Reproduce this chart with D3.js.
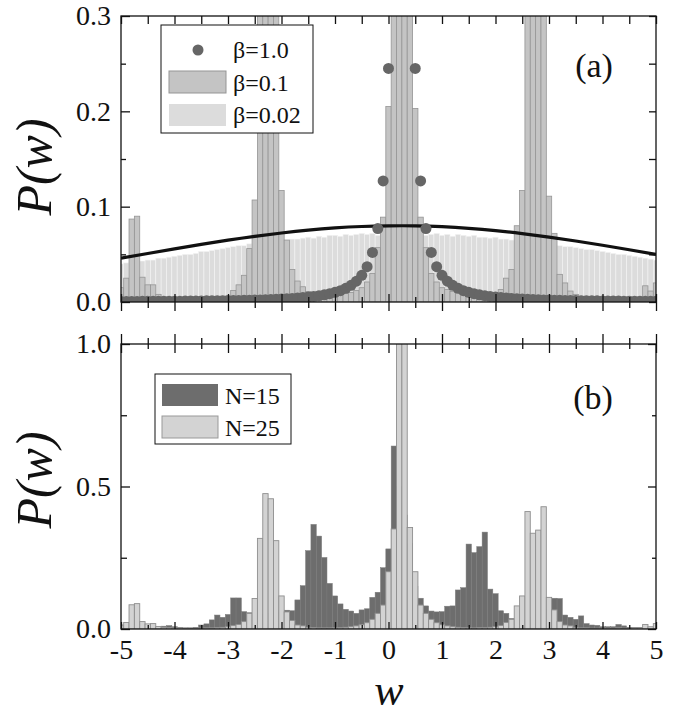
<!DOCTYPE html>
<meta charset="utf-8">
<div id="chart"></div>
<style>
  body { margin: 0; background: #fff; }
  text { font-family: "Liberation Serif", "Times New Roman", serif; fill: #111; }
</style>
<script src="https://d3js.org/d3.v7.min.js"></script>
<script>

// bin centres (width 0.1) shared by every histogram
var binW = [-5.0,-4.9,-4.8,-4.7,-4.6,-4.5,-4.4,-4.3,-4.2,-4.1,
  -4.0,-3.9,-3.8,-3.7,-3.6,-3.5,-3.4,-3.3,-3.2,-3.1,
  -3.0,-2.9,-2.8,-2.7,-2.6,-2.5,-2.4,-2.3,-2.2,-2.1,
  -2.0,-1.9,-1.8,-1.7,-1.6,-1.5,-1.4,-1.3,-1.2,-1.1,
  -1.0,-0.9,-0.8,-0.7,-0.6,-0.5,-0.4,-0.3,-0.2,-0.1,
  0.0,0.1,0.2,0.3,0.4,0.5,0.6,0.7,0.8,0.9,
  1.0,1.1,1.2,1.3,1.4,1.5,1.6,1.7,1.8,1.9,
  2.0,2.1,2.2,2.3,2.4,2.5,2.6,2.7,2.8,2.9,
  3.0,3.1,3.2,3.3,3.4,3.5,3.6,3.7,3.8,3.9,
  4.0,4.1,4.2,4.3,4.4,4.5,4.6,4.7,4.8,4.9,5.0];

// panel (a)
var beta1 = [0.0006,0.0006,0.0006,0.0006,0.0007,0.0007,0.0007,0.0008,0.0008,0.0008,
  0.0009,0.0009,0.0010,0.0010,0.0011,0.0011,0.0012,0.0013,0.0013,0.0014,
  0.0015,0.0016,0.0017,0.0018,0.0019,0.0021,0.0022,0.0024,0.0026,0.0029,
  0.0031,0.0034,0.0038,0.0042,0.0046,0.0052,0.0058,0.0066,0.0075,0.0087,
  0.0101,0.0119,0.0143,0.0175,0.0218,0.028,0.037,0.052,0.077,0.127,
  0.245,0.65,3.5,3.5,0.65,0.245,0.127,0.077,0.052,0.037,
  0.028,0.0218,0.0175,0.0143,0.0119,0.0101,0.0087,0.0075,0.0066,0.0058,
  0.0052,0.0046,0.0042,0.0038,0.0034,0.0031,0.0029,0.0026,0.0024,0.0022,
  0.0021,0.0019,0.0018,0.0017,0.0016,0.0015,0.0014,0.0013,0.0013,0.0012,
  0.0011,0.0011,0.0010,0.0010,0.0009,0.0009,0.0008,0.0008,0.0008,0.0007,0.0007];

var beta01 = [0.015,0.025,0.087,0.090,0.026,0.018,0.018,0.008,0.005,0.004,
  0.003,0.003,0.003,0.003,0.003,0.004,0.004,0.005,0.005,0.006,
  0.006,0.012,0.018,0.028,0.056,0.107,0.45,0.8,0.8,0.45,
  0.117,0.065,0.034,0.022,0.016,0.011,0.009,0.008,0.007,0.007,
  0.007,0.008,0.009,0.010,0.012,0.015,0.021,0.030,0.057,0.089,
  0.205,0.9,1.5,1.5,0.9,0.203,0.089,0.057,0.030,0.021,
  0.015,0.013,0.011,0.010,0.009,0.008,0.008,0.007,0.007,0.008,
  0.010,0.013,0.025,0.034,0.080,0.117,0.45,0.8,0.8,0.45,
  0.111,0.072,0.029,0.020,0.0115,0.008,0.006,0.005,0.005,0.004,
  0.004,0.004,0.005,0.004,0.004,0.005,0.004,0.004,0.017,0.0115,0.020];

var beta002 = [0.040,0.041,0.041,0.042,0.043,0.044,0.044,0.046,0.046,0.047,
  0.048,0.049,0.050,0.050,0.051,0.053,0.053,0.054,0.055,0.056,
  0.057,0.058,0.059,0.059,0.061,0.061,0.062,0.063,0.063,0.064,
  0.065,0.065,0.066,0.066,0.067,0.068,0.067,0.069,0.068,0.070,
  0.070,0.069,0.071,0.070,0.071,0.072,0.071,0.072,0.070,0.072,
  0.071,0.072,0.071,0.073,0.072,0.071,0.072,0.070,0.071,0.072,
  0.070,0.071,0.069,0.071,0.070,0.069,0.070,0.068,0.068,0.067,
  0.068,0.066,0.066,0.065,0.065,0.064,0.063,0.063,0.062,0.061,
  0.061,0.060,0.059,0.058,0.058,0.057,0.056,0.055,0.055,0.054,
  0.053,0.052,0.051,0.050,0.050,0.049,0.048,0.047,0.046,0.045,0.044];

var fitW = [-5,-4.5,-4,-3.5,-3,-2.5,-2,-1.5,-1,-0.5,0,0.5,1,1.5,2,2.5,3,3.5,4,4.5,5];
var fitP = [0.046,0.0509,0.0557,0.0604,0.0649,0.0689,0.0724,0.0754,0.0777,0.0792,0.0799,
  0.0799,0.079,0.0773,0.0749,0.0718,0.0681,0.064,0.0595,0.0548,0.0499];

// panel (b)
var n15 = [0.004,0.004,0.005,0.005,0.005,0.004,0.005,0.006,0.010,0.012,
  0.008,0.006,0.004,0.004,0.006,0.014,0.018,0.032,0.049,0.041,
  0.051,0.109,0.109,0.061,0.057,0.050,0.050,0.050,0.055,0.060,
  0.065,0.066,0.064,0.102,0.152,0.275,0.367,0.326,0.251,0.160,
  0.116,0.088,0.069,0.063,0.055,0.067,0.071,0.111,0.129,0.215,
  0.281,0.642,0.500,0.400,0.300,0.150,0.108,0.081,0.063,0.060,
  0.061,0.080,0.081,0.137,0.145,0.298,0.268,0.289,0.340,0.140,
  0.124,0.064,0.055,0.037,0.030,0.030,0.035,0.040,0.050,0.070,
  0.100,0.108,0.107,0.049,0.041,0.034,0.046,0.019,0.014,0.013,
  0.008,0.008,0.008,0.016,0.011,0.006,0.006,0.006,0.005,0.004,0.004];

var n25 = [0.014,0.023,0.085,0.089,0.026,0.018,0.019,0.009,0.006,0.005,
  0.004,0.004,0.003,0.003,0.003,0.003,0.004,0.004,0.005,0.006,
  0.008,0.012,0.016,0.026,0.055,0.107,0.318,0.475,0.457,0.310,
  0.116,0.060,0.030,0.014,0.011,0.006,0.005,0.004,0.004,0.004,
  0.005,0.005,0.006,0.008,0.011,0.015,0.022,0.034,0.055,0.084,
  0.201,0.351,1.150,1.150,0.356,0.201,0.084,0.055,0.034,0.022,
  0.015,0.011,0.008,0.006,0.005,0.005,0.004,0.005,0.005,0.006,
  0.009,0.012,0.023,0.034,0.081,0.116,0.412,0.336,0.347,0.429,
  0.111,0.067,0.026,0.014,0.011,0.006,0.004,0.004,0.003,0.003,
  0.003,0.003,0.003,0.004,0.003,0.003,0.004,0.004,0.016,0.008,0.019];

var xMajor = [-5,-4,-3,-2,-1,0,1,2,3,4,5];
var xMinor = [-4.5,-3.5,-2.5,-1.5,-0.5,0.5,1.5,2.5,3.5,4.5];
var yMajorA = [0, 0.1, 0.2, 0.3], yMinorA = [0.05, 0.15, 0.25];
var yMajorB = [0, 0.5, 1.0], yMinorB = [0.25, 0.75];

var svg = d3.select("#chart").append("svg")
    .attr("width", 684)
    .attr("height", 714)
    .style("background", "#fff");

var x = d3.scaleLinear().domain([-5, 5]).range([121, 656]);
var yA = d3.scaleLinear().domain([0, 0.3]).range([302, 16]);
var yB = d3.scaleLinear().domain([0, 1]).range([629, 344]);
var half = 0.05;

var defs = svg.append("defs");
defs.append("clipPath").attr("id", "clipA").append("rect")
    .attr("x", 121).attr("y", 16).attr("width", 535).attr("height", 286);
defs.append("clipPath").attr("id", "clipB").append("rect")
    .attr("x", 121).attr("y", 344).attr("width", 535).attr("height", 285);

function bars(g, vals, y, fill, stroke, sw) {
  g.append("g").selectAll("rect").data(vals).join("rect")
    .attr("x", function(d, i) { return x(binW[i] - half); })
    .attr("width", x(half) - x(-half))
    .attr("y", function(d) { return y(d); })
    .attr("height", function(d) { return y(0) - y(d); })
    .attr("fill", fill)
    .attr("stroke", stroke)
    .attr("stroke-width", sw);
}

// tick marks only, size>0 points along the axis' own direction
function ticks(tx, ty, axis, vals, size) {
  var g = svg.append("g").attr("transform", "translate(" + tx + "," + ty + ")");
  g.call(axis.tickValues(vals).tickSize(size).tickFormat(""));
  g.select(".domain").remove();
  g.selectAll("line").attr("stroke", "#111").attr("stroke-width", 1.3);
}

function labels(tx, ty, axis, vals, fmt, pad) {
  var g = svg.append("g").attr("transform", "translate(" + tx + "," + ty + ")");
  g.call(axis.tickValues(vals).tickSize(0).tickPadding(pad).tickFormat(fmt));
  g.select(".domain").remove();
  g.selectAll("text")
    .style("font-family", "'Liberation Serif', serif")
    .attr("font-size", 28)
    .attr("fill", "#111");
}

// ---------- panel (a)
var pa = svg.append("g").attr("clip-path", "url(#clipA)");
bars(pa, beta002, yA, "#dcdcdc", "#f4f4f4", 0.6);
bars(pa, beta01, yA, "#c4c4c4", "#959595", 0.8);

pa.append("path")
    .datum(fitW)
    .attr("fill", "none")
    .attr("stroke", "#111")
    .attr("stroke-width", 3.2)
    .attr("d", d3.line()
        .x(function(d) { return x(d); })
        .y(function(d, i) { return yA(fitP[i]); })
        .curve(d3.curveNatural));

pa.append("g").selectAll("circle").data(beta1).join("circle")
    .attr("cx", function(d, i) { return x(binW[i]); })
    .attr("cy", function(d) { return yA(d); })
    .attr("r", 5.5)
    .attr("fill", "#666");

svg.append("rect").attr("x", 121).attr("y", 16).attr("width", 535).attr("height", 286)
    .attr("fill", "none").attr("stroke", "#111").attr("stroke-width", 1.3);

ticks(0, 302, d3.axisBottom(x), xMajor, 9);
ticks(0, 302, d3.axisBottom(x), xMajor, -8);
ticks(0, 302, d3.axisBottom(x), xMinor, 6);
ticks(0, 302, d3.axisBottom(x), xMinor, -5);
ticks(0, 16, d3.axisTop(x), xMajor.concat(xMinor), -8);
ticks(121, 0, d3.axisLeft(yA), yMajorA, -9);
ticks(121, 0, d3.axisLeft(yA), yMinorA, -5);
ticks(656, 0, d3.axisRight(yA), yMajorA.concat(yMinorA), -7);
labels(121, 0, d3.axisLeft(yA), yMajorA, d3.format(".1f"), 10);

// legend (a)
var la = svg.append("g");
la.append("rect").attr("x", 161).attr("y", 25).attr("width", 152).attr("height", 108)
    .attr("fill", "#fff").attr("stroke", "#111").attr("stroke-width", 1);
la.append("circle").attr("cx", 198).attr("cy", 50).attr("r", 5.5).attr("fill", "#666");
la.append("rect").attr("x", 169).attr("y", 71).attr("width", 57).attr("height", 22)
    .attr("fill", "#c4c4c4").attr("stroke", "#959595");
la.append("rect").attr("x", 169).attr("y", 104).attr("width", 57).attr("height", 22)
    .attr("fill", "#dcdcdc");
la.selectAll("text").data(["β=1.0", "β=0.1", "β=0.02"]).join("text")
    .attr("x", 233)
    .attr("y", function(d, i) { return 58 + i * 32.5; })
    .attr("font-size", 24)
    .text(function(d) { return d; });

svg.append("text").attr("x", 594).attr("y", 77).attr("text-anchor", "middle")
    .attr("font-size", 34).text("(a)");

// ---------- panel (b)
var pb = svg.append("g").attr("clip-path", "url(#clipB)");
bars(pb, n15, yB, "#6d6d6d", "#7b7b7b", 0.5);
bars(pb, n25, yB, "#d3d3d3", "#8e8e8e", 0.9);

svg.append("rect").attr("x", 121).attr("y", 344).attr("width", 535).attr("height", 285)
    .attr("fill", "none").attr("stroke", "#111").attr("stroke-width", 1.3);

ticks(0, 344, d3.axisTop(x), xMajor, 10);
ticks(0, 344, d3.axisTop(x), xMajor, -9);
ticks(0, 344, d3.axisTop(x), xMinor, 6);
ticks(0, 344, d3.axisTop(x), xMinor, -5);
ticks(0, 629, d3.axisBottom(x), xMajor, -7);
ticks(0, 629, d3.axisBottom(x), xMinor, -4);
ticks(121, 0, d3.axisLeft(yB), yMajorB, -9);
ticks(121, 0, d3.axisLeft(yB), yMinorB, -6);
ticks(656, 0, d3.axisRight(yB), yMajorB, -8);
ticks(656, 0, d3.axisRight(yB), yMinorB, -4);
labels(121, 0, d3.axisLeft(yB), yMajorB, d3.format(".1f"), 10);
labels(0, 629, d3.axisBottom(x), xMajor, function(d) { return d < 0 ? "-" + (-d) : String(d); }, 10);

// legend (b)
var lb = svg.append("g");
lb.append("rect").attr("x", 155).attr("y", 374).attr("width", 136).attr("height", 70)
    .attr("fill", "#fff").attr("stroke", "#111").attr("stroke-width", 1);
lb.append("rect").attr("x", 162).attr("y", 384).attr("width", 56).attr("height", 22)
    .attr("fill", "#6d6d6d");
lb.append("rect").attr("x", 162).attr("y", 416).attr("width", 56).attr("height", 22)
    .attr("fill", "#d3d3d3").attr("stroke", "#999");
lb.selectAll("text").data(["N=15", "N=25"]).join("text")
    .attr("x", 225)
    .attr("y", function(d, i) { return 404 + i * 32; })
    .attr("font-size", 24)
    .text(function(d) { return d; });

svg.append("text").attr("x", 593).attr("y", 409).attr("text-anchor", "middle")
    .attr("font-size", 34).text("(b)");

// axis titles
svg.append("text")
    .attr("transform", "translate(51,167)rotate(-90)")
    .attr("text-anchor", "middle")
    .attr("font-size", 50)
    .attr("font-style", "italic")
    .text("P(w)");
svg.append("text")
    .attr("transform", "translate(51,480)rotate(-90)")
    .attr("text-anchor", "middle")
    .attr("font-size", 50)
    .attr("font-style", "italic")
    .text("P(w)");
svg.append("text")
    .attr("x", 389).attr("y", 704.5)
    .attr("text-anchor", "middle")
    .attr("font-size", 44)
    .attr("font-style", "italic")
    .text("w");

</script>
